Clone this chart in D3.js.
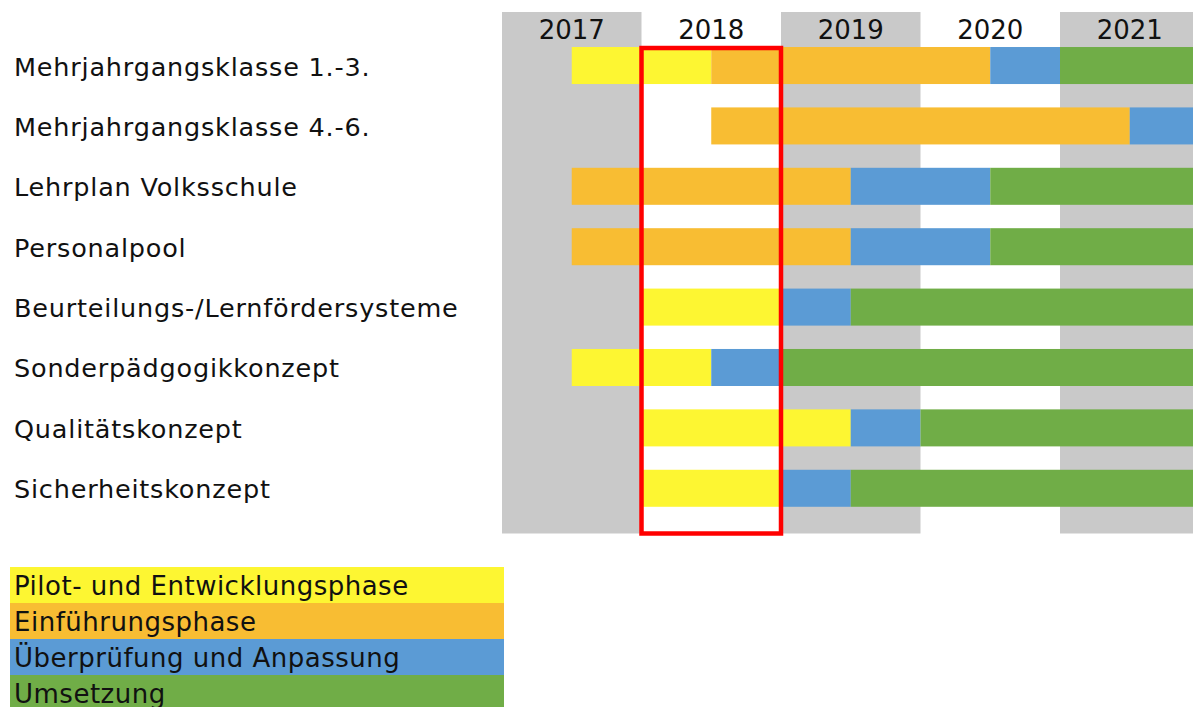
<!DOCTYPE html>
<html>
<head>
<meta charset="utf-8">
<script src="https://cdn.jsdelivr.net/npm/d3@7"></script>
<style>
  body { margin: 0; background: #fff; }
  svg { display: block; font-family: "DejaVu Sans", Verdana, sans-serif; }
</style>
</head>
<body>
<svg id="chart" width="1193" height="707"></svg>
<script>
// data
var years = [2017, 2018, 2019, 2020, 2021];
var rows = [
  "Mehrjahrgangsklasse 1.-3.",
  "Mehrjahrgangsklasse 4.-6.",
  "Lehrplan Volksschule",
  "Personalpool",
  "Beurteilungs-/Lernfördersysteme",
  "Sonderpädgogikkonzept",
  "Qualitätskonzept",
  "Sicherheitskonzept"
];
var phases = [
  "Pilot- und Entwicklungsphase",
  "Einführungsphase",
  "Überprüfung und Anpassung",
  "Umsetzung"
];
// one entry per bar piece: row, phase index, from year, to year (half years)
var segments = [
  { row: 0, phase: 0, from: 2017.5, to: 2018.5 },
  { row: 0, phase: 1, from: 2018.5, to: 2020.5 },
  { row: 0, phase: 2, from: 2020.5, to: 2021 },
  { row: 0, phase: 3, from: 2021, to: 2022 },

  { row: 1, phase: 1, from: 2018.5, to: 2021.5 },
  { row: 1, phase: 2, from: 2021.5, to: 2022 },

  { row: 2, phase: 1, from: 2017.5, to: 2019.5 },
  { row: 2, phase: 2, from: 2019.5, to: 2020.5 },
  { row: 2, phase: 3, from: 2020.5, to: 2022 },

  { row: 3, phase: 1, from: 2017.5, to: 2019.5 },
  { row: 3, phase: 2, from: 2019.5, to: 2020.5 },
  { row: 3, phase: 3, from: 2020.5, to: 2022 },

  { row: 4, phase: 0, from: 2018, to: 2019 },
  { row: 4, phase: 2, from: 2019, to: 2019.5 },
  { row: 4, phase: 3, from: 2019.5, to: 2022 },

  { row: 5, phase: 0, from: 2017.5, to: 2018.5 },
  { row: 5, phase: 2, from: 2018.5, to: 2019 },
  { row: 5, phase: 3, from: 2019, to: 2022 },

  { row: 6, phase: 0, from: 2018, to: 2019.5 },
  { row: 6, phase: 2, from: 2019.5, to: 2020 },
  { row: 6, phase: 3, from: 2020, to: 2022 },

  { row: 7, phase: 0, from: 2018, to: 2019 },
  { row: 7, phase: 2, from: 2019, to: 2019.5 },
  { row: 7, phase: 3, from: 2019.5, to: 2022 }
];
var highlightYear = 2018;

var svg = d3.select("#chart");

var x = d3.scaleLinear()
  .domain([2017, 2022])
  .range([502, 1199.5]);

var y = d3.scaleBand()
  .domain(d3.range(rows.length))
  .range([35.3, 518.5])
  .paddingInner(0.387)
  .paddingOuter(0.194);

var color = d3.scaleOrdinal()
  .domain(d3.range(phases.length))
  .range(["#fdf632", "#f8bd33", "#5b9bd5", "#70ad47"]);

var colTop = 12, colBottom = 533.5;

// gray background for every other year
svg.append("g").selectAll("rect")
  .data(years.filter(function(d, i) { return i % 2 === 0; }))
  .enter().append("rect")
    .attr("x", function(d) { return x(d); })
    .attr("y", colTop)
    .attr("width", function(d) { return x(d + 1) - x(d); })
    .attr("height", colBottom - colTop)
    .attr("fill", "#c9c9c9");

// year header
svg.append("g").selectAll("text")
  .data(years)
  .enter().append("text")
    .attr("x", function(d) { return x(d + 0.5); })
    .attr("y", 39)
    .attr("text-anchor", "middle")
    .attr("font-size", 26)
    .attr("fill", "#111")
    .text(function(d) { return d; });

// bars
svg.append("g").selectAll("rect")
  .data(segments)
  .enter().append("rect")
    .attr("x", function(d) { return x(d.from); })
    .attr("y", function(d) { return y(d.row); })
    .attr("width", function(d) { return x(d.to) - x(d.from); })
    .attr("height", y.bandwidth())
    .attr("fill", function(d) { return color(d.phase); });

// row labels
svg.append("g").selectAll("text")
  .data(rows)
  .enter().append("text")
    .attr("x", 14)
    .attr("y", function(d, i) { return y(i) + y.bandwidth() / 2 + 10; })
    .attr("font-size", 25.5)
    .attr("letter-spacing", 0.8)
    .attr("fill", "#111")
    .text(function(d) { return d; });

// red frame around the current year
svg.append("rect")
  .attr("x", x(highlightYear))
  .attr("y", y(0) + 1)
  .attr("width", x(highlightYear + 1) - x(highlightYear))
  .attr("height", colBottom - y(0) - 1)
  .attr("fill", "none")
  .attr("stroke", "#ff0000")
  .attr("stroke-width", 4.5);

// legend
var legend = svg.append("g").attr("transform", "translate(10,567)");
var lg = legend.selectAll("g")
  .data(phases)
  .enter().append("g")
    .attr("transform", function(d, i) { return "translate(0," + (i * 36) + ")"; });
lg.append("rect")
  .attr("width", 494)
  .attr("height", 36.5)
  .attr("fill", function(d, i) { return color(i); });
lg.append("text")
  .attr("x", 4)
  .attr("y", 28)
  .attr("font-size", 26)
  .attr("letter-spacing", 0.5)
  .attr("fill", "#111")
  .text(function(d) { return d; });
</script>
</body>
</html>
